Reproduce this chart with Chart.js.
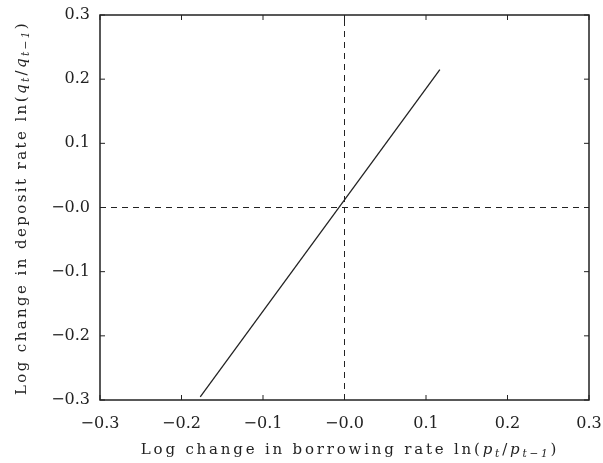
<!DOCTYPE html>
<html>
<head>
<meta charset="utf-8">
<script src="https://cdn.jsdelivr.net/npm/chart.js@4"></script>
<style>
  html, body { margin: 0; padding: 0; background: #fff; }
  #wrap { width: 603px; height: 463px; }
</style>
</head>
<body>
<div id="wrap"><canvas id="chart" width="603" height="463"></canvas></div>
<script>
// fitted relationship (end points of the drawn line)
const fitX = [-0.177, 0.117];
const fitY = [-0.295, 0.215];
// dashed reference lines at zero
const zeroSpan = [-0.3, 0.3];
const axisMin = -0.3;
const axisMax = 0.3;
const tickStep = 0.1;

const FONT = "'DejaVu Serif', 'Liberation Serif', serif";
const INK = '#222';

function fmt(v) {
    const r = Math.round(v * 10) / 10;
    if (r === 0) return '\u22120.0';
    return (r < 0 ? '\u2212' : '') + Math.abs(r).toFixed(1);
}

// draws a sequence of text runs: [text, italic, subscript]
function drawRuns(ctx, runs, size) {
    let w = 0;
    const measure = [];
    runs.forEach(r => {
        const s = r[2] ? size * 0.7 : size;
        ctx.font = (r[1] ? 'italic ' : '') + s + 'px ' + FONT;
        const m = ctx.measureText(r[0]).width;
        measure.push(m);
        w += m;
    });
    let x = -w / 2;
    runs.forEach((r, i) => {
        const s = r[2] ? size * 0.7 : size;
        ctx.font = (r[1] ? 'italic ' : '') + s + 'px ' + FONT;
        ctx.fillText(r[0], x, r[2] ? size * 0.3 : 0);
        x += measure[i];
    });
}

const framePlugin = {
    id: 'frame',
    afterDraw(chart) {
        const ctx = chart.ctx;
        const { left, right, top, bottom } = chart.chartArea;
        const xs = chart.scales.x, ys = chart.scales.y;
        ctx.save();
        ctx.strokeStyle = INK;
        ctx.lineWidth = 1.5;
        ctx.strokeRect(left, top, right - left, bottom - top);
        ctx.lineWidth = 1;
        const len = 5;
        xs.ticks.forEach(t => {
            const px = xs.getPixelForValue(t.value);
            ctx.beginPath();
            ctx.moveTo(px, bottom); ctx.lineTo(px, bottom - len);
            ctx.moveTo(px, top); ctx.lineTo(px, top + len);
            ctx.stroke();
        });
        ys.ticks.forEach(t => {
            const py = ys.getPixelForValue(t.value);
            ctx.beginPath();
            ctx.moveTo(left, py); ctx.lineTo(left + len, py);
            ctx.moveTo(right, py); ctx.lineTo(right - len, py);
            ctx.stroke();
        });

        // axis titles
        ctx.fillStyle = INK;
        ctx.textBaseline = 'middle';
        ctx.textAlign = 'left';
        ctx.save();
        ctx.letterSpacing = '2.8px';
        ctx.translate(350, 450);
        drawRuns(ctx, [
            ['Log change in borrowing rate ln(', false, false],
            ['p', true, false], ['t', true, true], ['/', false, false],
            ['p', true, false], ['t\u22121', true, true], [')', false, false]
        ], 15);
        ctx.restore();
        ctx.save();
        ctx.letterSpacing = '2.4px';
        ctx.translate(22, 208);
        ctx.rotate(-Math.PI / 2);
        drawRuns(ctx, [
            ['Log change in deposit rate ln(', false, false],
            ['q', true, false], ['t', true, true], ['/', false, false],
            ['q', true, false], ['t\u22121', true, true], [')', false, false]
        ], 15);
        ctx.restore();
        ctx.restore();
    }
};

new Chart(document.getElementById('chart').getContext('2d'), {
    type: 'scatter',
    data: {
        datasets: [
            {
                data: fitX.map((x, i) => ({ x: x, y: fitY[i] })),
                showLine: true,
                borderColor: INK,
                borderWidth: 1.3,
                pointRadius: 0
            },
            {
                data: zeroSpan.map(x => ({ x: x, y: 0 })),
                showLine: true,
                borderColor: INK,
                borderWidth: 1,
                borderDash: [6, 5],
                pointRadius: 0
            },
            {
                data: zeroSpan.map(y => ({ x: 0, y: y })),
                showLine: true,
                borderColor: INK,
                borderWidth: 1,
                borderDash: [6, 5],
                pointRadius: 0
            }
        ]
    },
    options: {
        responsive: false,
        animation: false,
        layout: { padding: { left: 0, right: 14, top: 15, bottom: 0 } },
        scales: {
            x: {
                type: 'linear',
                min: axisMin,
                max: axisMax,
                afterFit: s => { s.height = 63; s.paddingLeft = 0; s.paddingRight = 0; },
                ticks: {
                    stepSize: tickStep,
                    padding: 14,
                    color: INK,
                    font: { family: FONT, size: 16 },
                    callback: v => fmt(v)
                },
                grid: { display: false, drawTicks: false },
                border: { display: false }
            },
            y: {
                type: 'linear',
                min: axisMin,
                max: axisMax,
                afterFit: s => { s.width = 100; s.paddingTop = 0; s.paddingBottom = 0; },
                ticks: {
                    stepSize: tickStep,
                    padding: 10,
                    color: INK,
                    font: { family: FONT, size: 16 },
                    callback: v => fmt(v)
                },
                grid: { display: false, drawTicks: false },
                border: { display: false }
            }
        },
        plugins: {
            legend: { display: false },
            tooltip: { enabled: false }
        }
    },
    plugins: [framePlugin]
});
</script>
</body>
</html>
